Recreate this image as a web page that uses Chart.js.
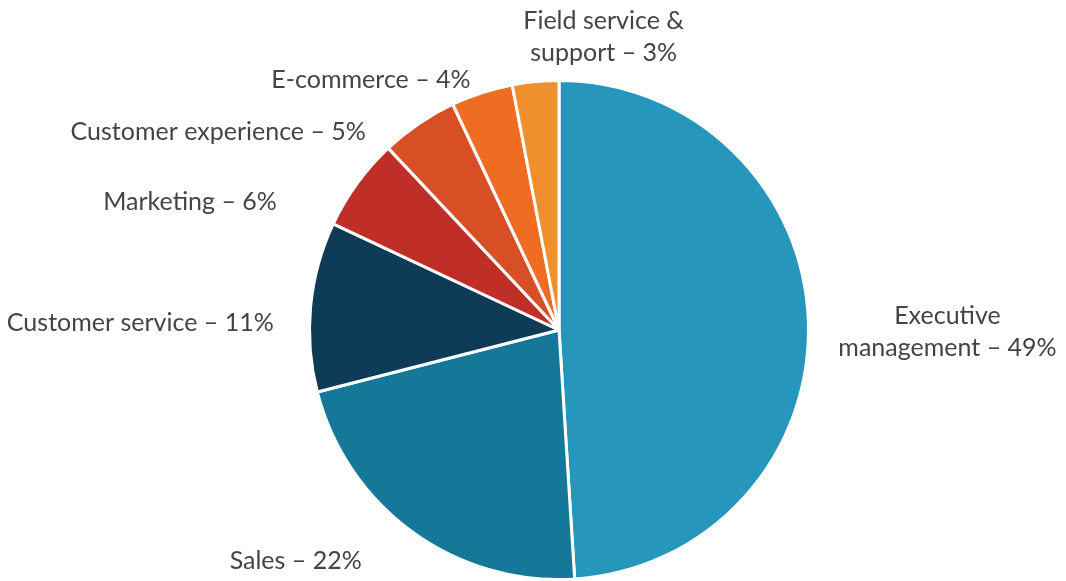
<!DOCTYPE html>
<html>
<head>
<meta charset="utf-8">
<script src="https://cdn.jsdelivr.net/npm/chart.js@4"></script>
<style>
  html, body { margin: 0; padding: 0; background: #fff; }
  #wrap { width: 1066px; height: 581px; }
</style>
</head>
<body>
<div id="wrap"><canvas id="pie"></canvas></div>
<script>
const categories = [
  ['Executive', 'management – 49%'],
  ['Sales – 22%'],
  ['Customer service – 11%'],
  ['Marketing – 6%'],
  ['Customer experience – 5%'],
  ['E-commerce – 4%'],
  ['Field service &', 'support – 3%'],
];
const shares = [49, 22, 11, 6, 5, 4, 3];
const colors = ['#2796BB', '#157899', '#0E3B55', '#C02F27', '#D84F26', '#EF6C23', '#EF902C'];

// fine adjustments for where each label sits next to its slice
const labelNudge = [[0, 11], [-33, 5], [-7, 19], [-56, 36], [-36, 33], [-2, 16], [71, -15]];

const outsideLabels = {
  id: 'outsideLabels',
  afterDatasetsDraw(chart) {
    const ctx = chart.ctx;
    const meta = chart.getDatasetMeta(0);
    ctx.save();
    ctx.font = '25px Lato';
    ctx.fillStyle = '#444444';
    ctx.textBaseline = 'middle';
    ctx.textAlign = 'center';
    const lineH = 32;
    meta.data.forEach((arc, i) => {
      const p = arc.getProps(['x', 'y', 'startAngle', 'endAngle', 'outerRadius'], true);
      const mid = (p.startAngle + p.endAngle) / 2;
      const R = p.outerRadius + 30;
      const ax = p.x + Math.cos(mid) * R + labelNudge[i][0];
      const ay = p.y + Math.sin(mid) * R + labelNudge[i][1];
      const lines = chart.data.labels[i];
      const w = Math.max(...lines.map(l => ctx.measureText(l).width));
      const c = Math.cos(mid);
      let cx;
      if (c > 0.3) cx = ax + w / 2;
      else if (c < -0.3) cx = ax - w / 2;
      else cx = ax;
      const top = ay - (lines.length - 1) * lineH / 2;
      lines.forEach((l, k) => ctx.fillText(l, cx, top + k * lineH));
    });
    ctx.restore();
  }
};

new Chart(document.getElementById('pie'), {
  type: 'pie',
  data: {
    labels: categories,
    datasets: [{
      data: shares,
      backgroundColor: colors,
      borderColor: '#ffffff',
      borderWidth: 3,
    }],
  },
  options: {
    responsive: true,
    maintainAspectRatio: false,
    animation: false,
    layout: { padding: { left: 308, right: 256, top: 79, bottom: 0 } },
    plugins: {
      legend: { display: false },
      tooltip: { enabled: false },
    },
  },
  plugins: [outsideLabels],
});
</script>
</body>
</html>
